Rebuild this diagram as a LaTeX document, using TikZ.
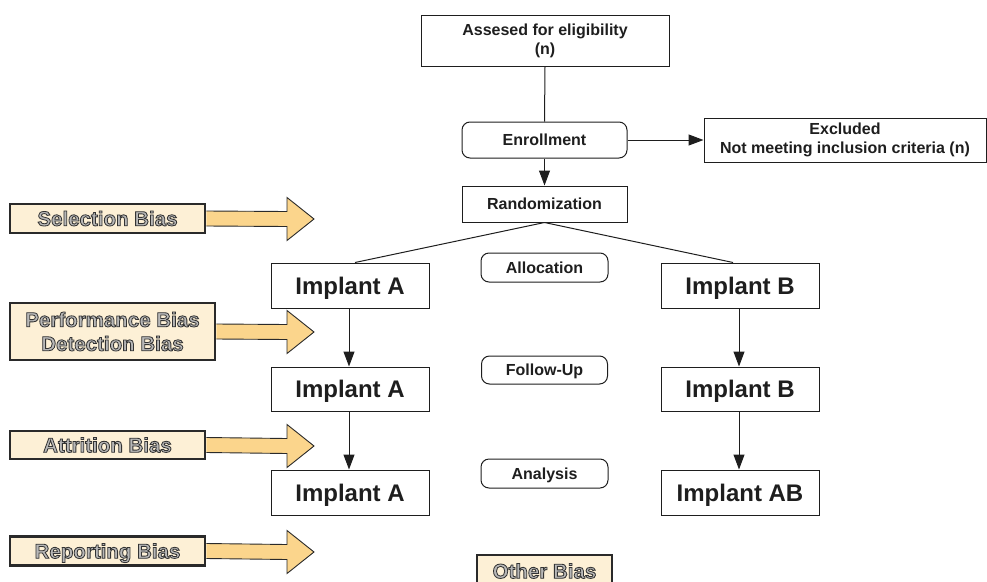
\documentclass[tikz,border=0pt]{standalone}
\usepackage{fontspec}
\setmainfont{Liberation Sans}
\newfontfamily\biasfont[FakeBold=4]{Liberation Sans Bold}
\usetikzlibrary{arrows.meta,calc,backgrounds}
\definecolor{biasfill}{HTML}{FDF0D6}
\definecolor{arrowfill}{HTML}{FBD58C}
\definecolor{biasline}{HTML}{2A2A2A}
\definecolor{inkc}{HTML}{1E1E1E}
\newcommand{\biastxt}[1]{\special{pdf:bcolor [0.72 0.72 0.72] [0.2 0.2 0.2]}#1\special{pdf:ecolor}}
\tikzset{
  flowbox/.style={draw=inkc, line width=1pt, fill=white, inner sep=0pt, align=center, text=inkc,
    font=\fontsize{16}{19}\selectfont\bfseries},
  capbox/.style={flowbox, text height=11.5pt, text depth=0pt},
  roundbox/.style={capbox, rounded corners=8pt},
  implantbox/.style={flowbox, minimum width=158pt, text height=17.2pt, text depth=0pt,
    font=\fontsize{24}{28}\selectfont\bfseries},
  biasbox/.style={draw=biasline, line width=2.6pt, fill=biasfill, inner sep=0pt, align=center,
    font=\biasfont\fontsize{20.5}{24}\selectfont},
  biasone/.style={biasbox, text height=14.6pt, text depth=0pt},
  barrow/.style={draw=biasline, line width=0.9pt, fill=arrowfill, line join=miter},
  flowline/.style={draw=inkc, line width=1pt},
  flowarrow/.style={flowline, -{Triangle[length=15pt,width=11pt]}}
}
\begin{document}
\begin{tikzpicture}[x=1pt,y=-1pt]
\useasboundingbox (0,0) rectangle (987,581);
\clip (0,0) rectangle (987,581);

% main flow
\node[flowbox, minimum width=248pt, minimum height=51pt] (assess) at (545,40.5) {Assesed for eligibility\\(n)};
\node[roundbox, minimum width=165pt, minimum height=36pt] (enroll) at (544.5,140) {Enrollment};
\node[flowbox, minimum width=282pt, minimum height=44pt] (excl) at (845,140) {Excluded\\Not meeting inclusion criteria (n)};
\node[capbox, minimum width=165pt, minimum height=36pt] (rand) at (544.5,204) {Randomization};

\node[implantbox, minimum height=45pt] (a1) at (350,285.5) {Implant A};
\node[implantbox, minimum height=45pt] (b1) at (740,285.5) {Implant B};
\node[implantbox, minimum height=44pt] (a2) at (350,389) {Implant A};
\node[implantbox, minimum height=44pt] (b2) at (740,389) {Implant B};
\node[implantbox, minimum height=45pt] (a3) at (350,492.5) {Implant A};
\node[implantbox, minimum height=45pt] (b3) at (740,492.5) {Implant AB};

\node[roundbox, minimum width=127pt, minimum height=29pt] (alloc) at (544.5,267.5) {Allocation};
\node[roundbox, minimum width=126pt, minimum height=28pt] (follow) at (544.5,370) {Follow-Up};
\node[roundbox, minimum width=127pt, minimum height=29pt] (anal) at (544.5,473.5) {Analysis};

\draw[flowline] (assess.south) -- (enroll.north);
\draw[flowarrow] (enroll.east) -- (enroll.east -| excl.west);
\draw[flowarrow] (enroll.south) -- (rand.north);
\draw[flowline] (rand.south) -- ($(a1.north)+(5,0)$);
\draw[flowline] (rand.south) -- ($(b1.north)+(-7,0)$);
\draw[flowarrow] ($(a1.south)+(-1,0)$) -- ($(a2.north)+(-1,0)$);
\draw[flowarrow] ($(a2.south)+(-1,0)$) -- ($(a3.north)+(-1,0)$);
\draw[flowarrow] ($(b1.south)+(-1,0)$) -- ($(b2.north)+(-1,0)$);
\draw[flowarrow] ($(b2.south)+(-1,0)$) -- ($(b3.north)+(-1,0)$);

% bias boxes
\node[biasone, minimum width=195pt, minimum height=29pt] (sel) at (107.5,218.5) {\biastxt{Selection Bias}};
\node[biasbox, minimum width=205pt, minimum height=57pt] (perf) at (112.5,331.5) {\biastxt{Performance Bias}\\\biastxt{Detection Bias}};
\node[biasone, minimum width=195pt, minimum height=28pt] (attr) at (107.5,445) {\biastxt{Attrition Bias}};
\node[biasone, minimum width=195pt, minimum height=29pt] (rep) at (107.5,551) {\biastxt{Reporting Bias}};
\node[biasone, minimum width=135pt, minimum height=32pt] (other) at (544.5,571) {\biastxt{Other Bias}};

\coordinate (seltip) at (314,219);
\coordinate (perftip) at (314,332);
\coordinate (attrtip) at (314,446);
\coordinate (reptip) at (314,552);

\begin{scope}[on background layer]
\foreach \b/\t in {sel/seltip, perf/perftip, attr/attrtip, rep/reptip}{
  \draw[barrow] ($(\b.east)+(0,-7.5)$) -- ($(\t)+(-27,-7.5)$) -- ($(\t)+(-27,-21.5)$) -- (\t)
    -- ($(\t)+(-27,21.5)$) -- ($(\t)+(-27,7.5)$) -- ($(\b.east)+(0,7.5)$);
}
\end{scope}
\end{tikzpicture}
\end{document}
